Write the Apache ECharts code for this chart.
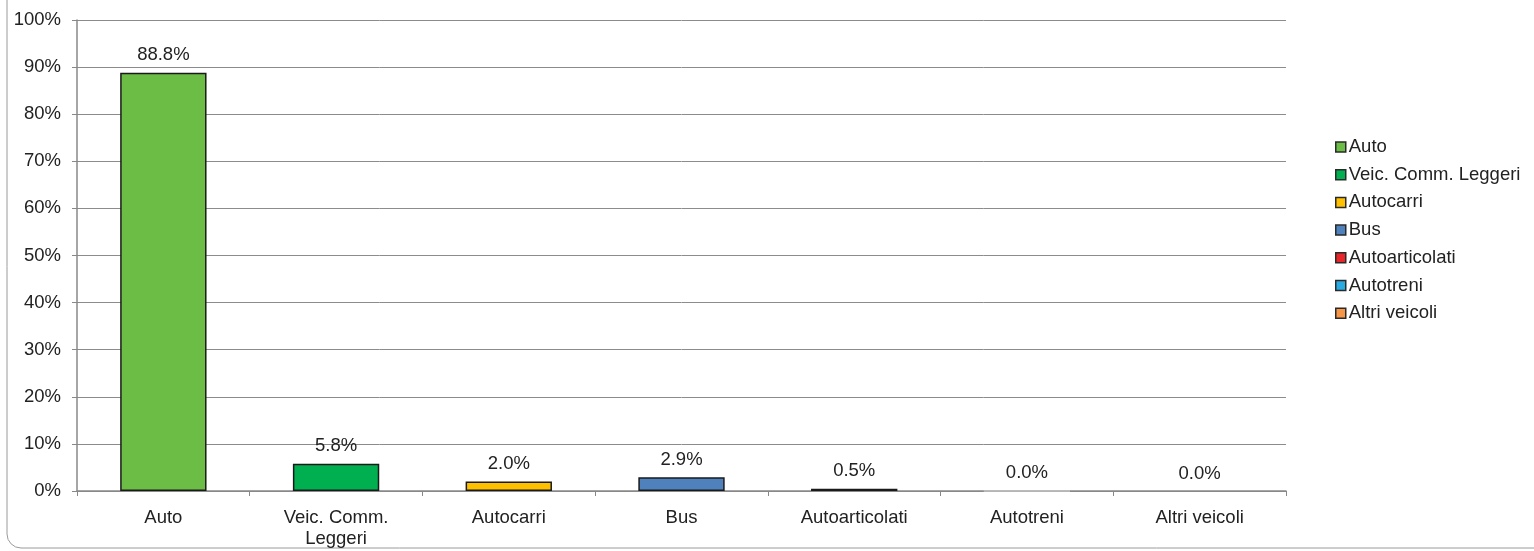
<!DOCTYPE html>
<html>
<head>
<meta charset="utf-8">
<script src="https://cdn.jsdelivr.net/npm/echarts@6/dist/echarts.min.js"></script>
<style>
	html, body { margin: 0; padding: 0; background: #fff; }
	#chart { width: 1534px; height: 551px; }
</style>
</head>
<body>
<div id="chart"></div>
<script>
// categorie e quote (%)
var categories = ["Auto", "Veic. Comm. Leggeri", "Autocarri", "Bus", "Autoarticolati", "Autotreni", "Altri veicoli"];
var axisLabels = ["Auto", "Veic. Comm.\nLeggeri", "Autocarri", "Bus", "Autoarticolati", "Autotreni", "Altri veicoli"];
var shares = [88.8, 5.8, 2.0, 2.9, 0.5, 0.04, 0.0];
var colors = ["#6CBD45", "#00B050", "#FFC000", "#4F81BD", "#E8262A", "#29ABE2", "#F79646"];
var yTicks = [0, 10, 20, 30, 40, 50, 60, 70, 80, 90, 100];

var mychart = echarts.init(document.getElementById('chart'));

var series = [];
var legendData = [];
for (var i = 0, n = categories.length; i < n; i++) {
	var data = [];
	for (var j = 0; j < n; j++) {
		data.push(j == i ? shares[i] : '-');
	}
	// bordo: grigio chiaro per Autotreni, nessuno per valori nulli
	var bColor = '#1a1a1a', bWidth = 1.5;
	if (i == 5) { bColor = '#c4c4c4'; }
	if (shares[i] == 0) { bWidth = 0; }
	series.push({
		name: categories[i],
		type: 'bar',
		stack: 'tot',
		barWidth: '50%',
		data: data,
		itemStyle: {
			color: colors[i],
			borderColor: bColor,
			borderWidth: bWidth
		},
		label: {
			show: true,
			position: 'top',
			distance: 8,
			color: '#222',
			fontSize: 18.5,
			fontFamily: 'Liberation Sans',
			formatter: function (p) {
				return p.value.toFixed(1) + '%';
			}
		}
	});
	legendData.push({
		name: categories[i],
		itemStyle: { borderColor: '#2a2a2a', borderWidth: 1.5 }
	});
}

var option = {
	animation: false,
	textStyle: { fontFamily: 'Liberation Sans' },
	graphic: [{
		type: 'rect',
		shape: { x: 7, y: -30, width: 1600, height: 578, r: 14 },
		style: { fill: 'none', stroke: '#9a9a9a', lineWidth: 1 },
		silent: true
	}],
	grid: { left: 77, right: 248, top: 20, bottom: 60 },
	legend: {
		orient: 'vertical',
		left: 1330,
		top: 132,
		itemWidth: 10,
		itemHeight: 10,
		itemGap: 7.7,
		icon: 'rect',
		textStyle: { fontSize: 18.5, lineHeight: 20, color: '#222', padding: [0, 0, 0, -2] },
		data: legendData
	},
	xAxis: {
		type: 'category',
		data: axisLabels,
		axisLine: { lineStyle: { color: '#888', width: 1.5 } },
		axisTick: { show: true, length: 5, lineStyle: { color: '#888' } },
		axisLabel: { color: '#222', fontSize: 18.5, margin: 16, lineHeight: 21 }
	},
	yAxis: {
		type: 'value',
		min: 0,
		max: 100,
		interval: 10,
		axisLine: { show: true, lineStyle: { color: '#888', width: 1.5 } },
		axisTick: { show: true, length: 5, lineStyle: { color: '#888' } },
		splitLine: { lineStyle: { color: '#8c8c8c', width: 1 } },
		axisLabel: {
			color: '#222',
			fontSize: 18.5,
			margin: 16,
			formatter: function (v) {
				return yTicks.indexOf(v) >= 0 ? v + '%' : '';
			}
		}
	},
	series: series
};
mychart.setOption(option);
</script>
</body>
</html>
